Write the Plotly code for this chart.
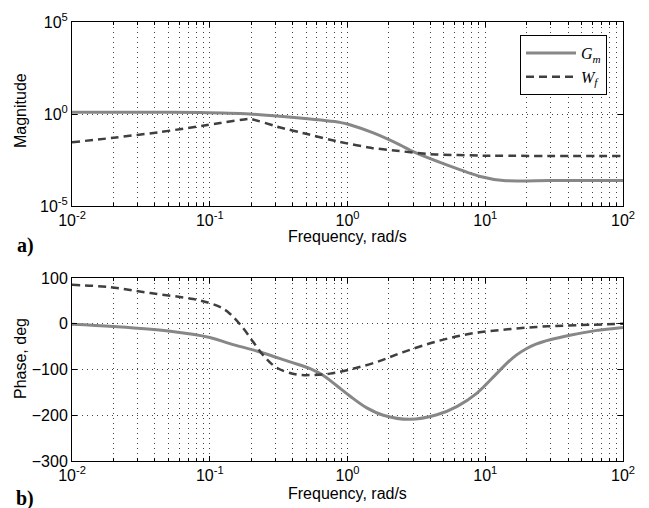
import plotly.graph_objects as go

# ---- Bode data: plant G_m and weighting filter W_f ----
# magnitude plot
gm_mag_freq = [0.01, 0.0316, 0.085, 0.195, 0.45, 0.88, 1.04, 1.54, 2.4, 3.0, 5.25, 9.2, 13.5, 30.0, 100.0]
gm_mag = [1.23, 1.23, 1.2, 1.0, 0.60, 0.35, 0.26, 0.093, 0.021, 0.0089, 0.0017, 4.0e-4, 2.4e-4, 2.4e-4, 2.4e-4]

wf_mag_freq = [0.01, 0.02, 0.044, 0.089, 0.119, 0.195, 0.32, 0.51, 0.88, 1.54, 2.28, 4.0, 10.0, 100.0]
wf_mag = [0.029, 0.051, 0.105, 0.23, 0.32, 0.55, 0.19, 0.081, 0.030, 0.0138, 0.010, 0.0065, 0.0054, 0.0052]

# phase plot (deg)
gm_ph_freq = [0.01, 0.02, 0.05, 0.1, 0.14, 0.232, 0.383, 0.535, 0.668, 0.832, 1.04, 1.38, 1.82,
              2.84, 4.45, 6.21, 8.67, 12.1, 14.5, 16.9, 20.0, 23.6, 29.5, 41.2, 63.0, 100.0]
gm_ph = [-1, -6, -16, -30, -43.5, -61.7, -83.5, -98, -113, -135, -158, -184, -200,
         -209, -199, -181, -152, -109, -85, -68, -54, -44, -35, -25, -15, -8]

wf_ph_freq = [0.01, 0.019, 0.037, 0.076, 0.1, 0.122, 0.14, 0.172, 0.207, 0.245, 0.306, 0.427, 0.562, 0.746,
              1.04, 1.58, 2.54, 4.45, 7.74, 13.5, 23.6, 38.9, 100.0]
wf_ph = [85, 80, 67, 54, 45, 35, 22, -7, -40, -69, -96, -111, -112, -109,
         -100, -85, -62, -38.5, -22, -13, -7, -4, 0]

# axis ticks
x_major = [1e-2, 1e-1, 1e0, 1e1, 1e2]
x_major_text = ["10<sup>-2</sup>", "10<sup>-1</sup>", "10<sup>0</sup>", "10<sup>1</sup>", "10<sup>2</sup>"]
x_minor = [m * 10.0 ** e for e in range(-2, 2) for m in range(2, 10)]
mag_ticks = [1e-5, 1e0, 1e5]
mag_tick_text = ["10<sup>-5</sup>", "10<sup>0</sup>", "10<sup>5</sup>"]
ph_ticks = [-300, -200, -100, 0, 100]
ph_tick_text = ["\u2212300", "\u2212200", "\u2212100", "0", "100"]

W, H = 649, 508
SANS = "Liberation Sans, Arial, sans-serif"
SERIF = "Liberation Serif, Times New Roman, serif"

GM_COLOR = "#878787"
WF_COLOR = "#3f3f3f"
GRID = "#444444"
DOTS = "1px,4px"

fig = go.Figure()

fig.add_trace(go.Scatter(x=gm_mag_freq, y=gm_mag, mode="lines", name="<i>G<sub>m</sub></i>",
                         line=dict(color=GM_COLOR, width=3, shape="spline", smoothing=0.7),
                         xaxis="x", yaxis="y"))
fig.add_trace(go.Scatter(x=wf_mag_freq, y=wf_mag, mode="lines", name="<i>W<sub>f</sub></i>",
                         line=dict(color=WF_COLOR, width=2.5, dash="8px,5px", shape="spline", smoothing=0.3),
                         xaxis="x", yaxis="y"))
fig.add_trace(go.Scatter(x=gm_ph_freq, y=gm_ph, mode="lines", showlegend=False,
                         line=dict(color=GM_COLOR, width=3, shape="spline", smoothing=1.0),
                         xaxis="x2", yaxis="y2"))
fig.add_trace(go.Scatter(x=wf_ph_freq, y=wf_ph, mode="lines", showlegend=False,
                         line=dict(color=WF_COLOR, width=2.5, dash="8px,5px", shape="spline", smoothing=1.0),
                         xaxis="x2", yaxis="y2"))

x_dom = [72 / W, 623 / W]
top_dom = [1 - 206 / H, 1 - 22 / H]
bot_dom = [1 - 461 / H, 1 - 278 / H]

common_x = dict(
    type="log", range=[-2, 2], domain=x_dom, automargin=False,
    tickmode="array", tickvals=x_major, ticktext=x_major_text,
    ticks="inside", ticklen=5, tickcolor="black",
    showline=True, linecolor="black", linewidth=1, mirror="ticks",
    showgrid=True, gridcolor=GRID, gridwidth=1, griddash=DOTS,
    minor=dict(tickmode="array", tickvals=x_minor, ticks="inside", ticklen=3, tickcolor="black",
               showgrid=True, gridcolor=GRID, gridwidth=1, griddash=DOTS),
    tickfont=dict(family=SANS, size=16, color="black"),
    zeroline=False, fixedrange=True,
)
common_y = dict(
    automargin=False,
    ticks="inside", ticklen=5, tickcolor="black",
    showline=True, linecolor="black", linewidth=1, mirror="ticks",
    showgrid=True, gridcolor=GRID, gridwidth=1, griddash=DOTS,
    tickfont=dict(family=SANS, size=16, color="black"),
    zeroline=False, fixedrange=True,
)

fig.update_layout(
    width=W, height=H,
    margin=dict(l=0, r=0, t=0, b=0, autoexpand=False),
    paper_bgcolor="white", plot_bgcolor="white",
    xaxis=dict(common_x, anchor="y"),
    xaxis2=dict(common_x, anchor="y2"),
    yaxis=dict(common_y, type="log", range=[-5, 5], domain=top_dom, anchor="x",
               tickmode="array", tickvals=mag_ticks, ticktext=mag_tick_text),
    yaxis2=dict(common_y, range=[-300, 100], domain=bot_dom, anchor="x2",
                tickmode="array", tickvals=ph_ticks, ticktext=ph_tick_text),
    legend=dict(x=607 / W, y=1 - 35 / H, xanchor="right", yanchor="top",
                bgcolor="white", bordercolor="black", borderwidth=1,
                font=dict(family=SERIF, size=16, color="black"),
                itemwidth=50),
    showlegend=True,
)

def px_note(text, x, y, size=16, family=SANS, angle=0, bold=False):
    fig.add_annotation(text=f"<b>{text}</b>" if bold else text,
                       x=x / W, y=1 - y / H, xref="paper", yref="paper",
                       xanchor="center", yanchor="middle",
                       showarrow=False, textangle=angle,
                       font=dict(family=family, size=size, color="black"))

px_note("Magnitude", 20, 111, angle=-90)
px_note("Phase, deg", 20, 359, angle=-90)
px_note("Frequency, rad/s", 347, 236)
px_note("Frequency, rad/s", 347, 493)
px_note("a)", 25, 245, size=20, family=SERIF, bold=True)
px_note("b)", 25, 498, size=20, family=SERIF, bold=True)

fig.write_html("out.html")
